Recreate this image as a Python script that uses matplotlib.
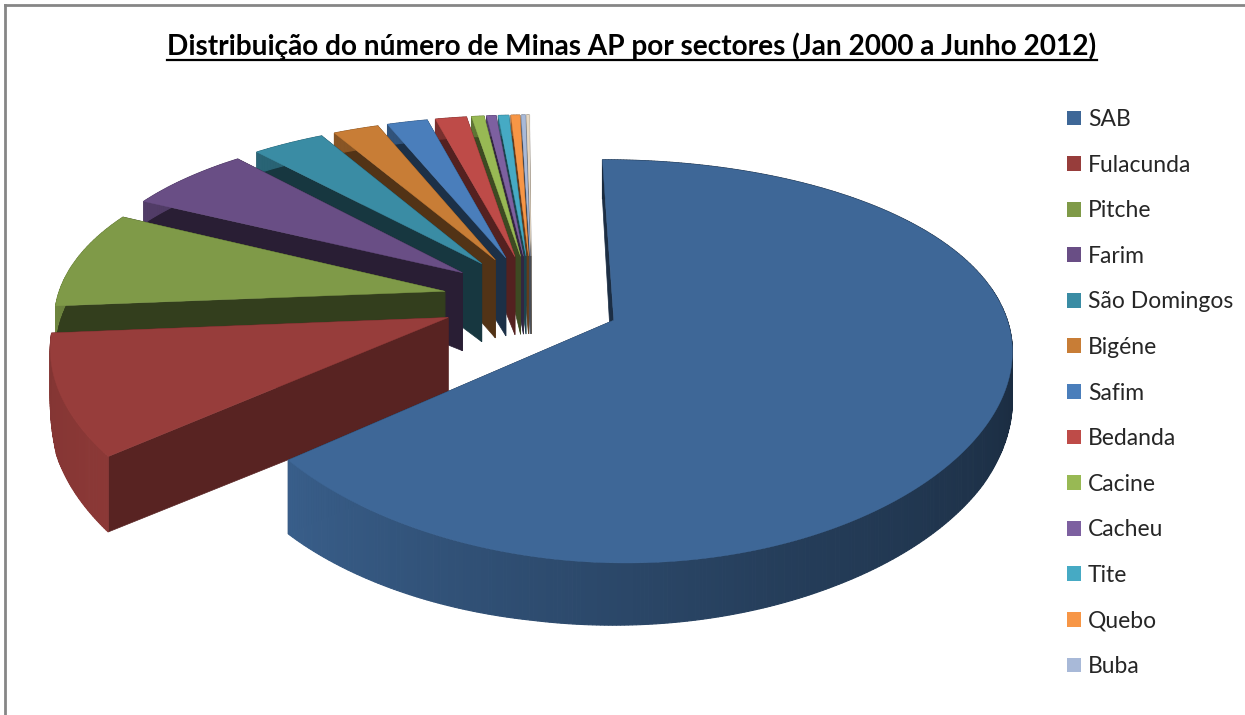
#!/usr/bin/env python3
"""Exploded 3D pie - minas AP por sectores"""

import numpy as np
import matplotlib
matplotlib.use('Agg')
import matplotlib.pyplot as plt
from matplotlib.patches import Patch, Polygon, Rectangle

title = 'Distribuição do número de Minas AP por sectores (Jan 2000 a Junho 2012)'
sectores = ['SAB', 'Fulacunda', 'Pitche', 'Farim', 'São Domingos', 'Bigéne', 'Safim',
            'Bedanda', 'Cacine', 'Cacheu', 'Tite', 'Quebo', 'Buba']
# share of mines in percent (last one has no visible legend entry)
valores = [64.2, 9.6, 8.6, 6.1, 3.5, 2.2, 1.95, 1.5, 0.6, 0.45, 0.5, 0.42, 0.2, 0.15]
cores = ['#3E6797', '#973D3B', '#7F9A48', '#694E85', '#3A8CA4', '#C87D36', '#4A7EBB',
         '#BE4B48', '#98B954', '#7D60A0', '#46AAC4', '#F79646', '#A8B9D8', '#E6D8C4']
# how dark the cut faces are compared with the top
sombra = [0.45, 0.58, 0.4, 0.39, 0.39, 0.41, 0.38, 0.44, 0.4, 0.4, 0.4, 0.4, 0.4, 0.4]

# projection of the tilted pie onto the canvas (pixels)
CX, CY = 532, 300
SX, SY = 388, 185
KX, KY = 0.13, 0.20
EXPLODE_X, EXPLODE_Y = 0.23, 0.25
START = -0.3


def project(x, y):
    return CX + SX * x / (1 + KX * y), CY - SY * y / (1 + KY * y)


def depth(x, y):
    """Wall height: roughly constant at the centre, changes round the rim."""
    r = np.hypot(x, y)
    phi = np.degrees(np.arctan2(x, y)) % 360
    rim = np.interp(phi, [0, 60, 120, 180, 232, 250, 268, 300, 360],
                    [20, 32, 55, 62, 76, 70, 30, 22, 20])
    return 78 + (rim - 78) * np.clip((r - 0.25) / 0.95, 0, 1)


def darker(color, f):
    return tuple(np.array(matplotlib.colors.to_rgb(color)) * f)


fig = plt.figure(figsize=(12.45, 7.15), dpi=100)
plt.rcParams['font.family'] = ['Lato', 'DejaVu Sans']
ax = fig.add_axes([0, 0, 1, 1])
ax.set_xlim(0, 1245)
ax.set_ylim(715, 0)
ax.axis('off')

# chart border (top and left only are inside the crop)
ax.plot([5, 1245], [5, 5], color='#868686', lw=2)
ax.plot([5, 5], [5, 715], color='#868686', lw=2)

total = sum(valores)
edges = START + np.concatenate([[0], np.cumsum(valores)]) / total * 360

# back slices first, big front slice last
for i in range(len(valores) - 1, -1, -1):
    a0, a1 = edges[i], edges[i + 1]
    mid = np.radians((a0 + a1) / 2)
    ox, oy = EXPLODE_X * np.sin(mid), EXPLODE_Y * np.cos(mid)
    th = np.radians(np.linspace(a0, a1, max(int(a1 - a0) * 2, 4)))
    rx, ry = ox + np.sin(th), oy + np.cos(th)
    px, py = project(rx, ry)
    ax_, ay_ = project(ox, oy)
    d_apex = depth(ox, oy)
    d_rim = depth(rx, ry)
    side = darker(cores[i], sombra[i])
    z = (len(valores) - i) * 3
    # cut faces
    for j in (-1, 0):
        verts = [(ax_, ay_), (px[j], py[j]), (px[j], py[j] + d_rim[j]), (ax_, ay_ + d_apex)]
        ax.add_patch(Polygon(verts, closed=True, fc=side, ec=side, lw=0.5, zorder=2 + z))
    # outer wall, shaded by angle
    for k in range(len(th) - 1):
        shade = np.interp(np.degrees(th[k]), [60, 100, 160, 232, 272, 360], [0.42, 0.42, 0.6, 0.92, 0.85, 0.6])
        c = darker(cores[i], shade)
        verts = [(px[k], py[k]), (px[k + 1], py[k + 1]),
                 (px[k + 1], py[k + 1] + d_rim[k + 1]), (px[k], py[k] + d_rim[k])]
        ax.add_patch(Polygon(verts, closed=True, fc=c, ec=c, lw=0.8, zorder=3 + z))
    # top surface
    top = np.column_stack([np.r_[ax_, px], np.r_[ay_, py]])
    ax.add_patch(Polygon(top, closed=True, fc=cores[i], ec=cores[i], lw=0.3, zorder=4 + z))

t = ax.text(632, 46, title, fontsize=20.15, fontweight='bold', ha='center', va='center', color='black', zorder=60)
fig.canvas.draw()
bb = t.get_window_extent().transformed(ax.transData.inverted())
ax.plot([bb.x0, bb.x1], [60, 60], color='black', lw=1.6, zorder=60)

handles = [Patch(fc=cores[i], ec='none', label=sectores[i]) for i in range(len(sectores))]
leg = ax.legend(handles=handles, loc='upper left', bbox_to_anchor=(1067 / 1245, 1 - 109 / 715),
                frameon=False, fontsize=16.5, labelspacing=1.073, handlelength=0.62, handleheight=0.62,
                handletextpad=0.3, borderpad=0, borderaxespad=0, labelcolor='#262626')
leg.set_zorder(60)

# last legend row is cut off in the chart
ax.add_patch(Rectangle((1060, 673), 185, 42, fc='white', ec='none', zorder=70))

fig.savefig('out.png', dpi=100)
